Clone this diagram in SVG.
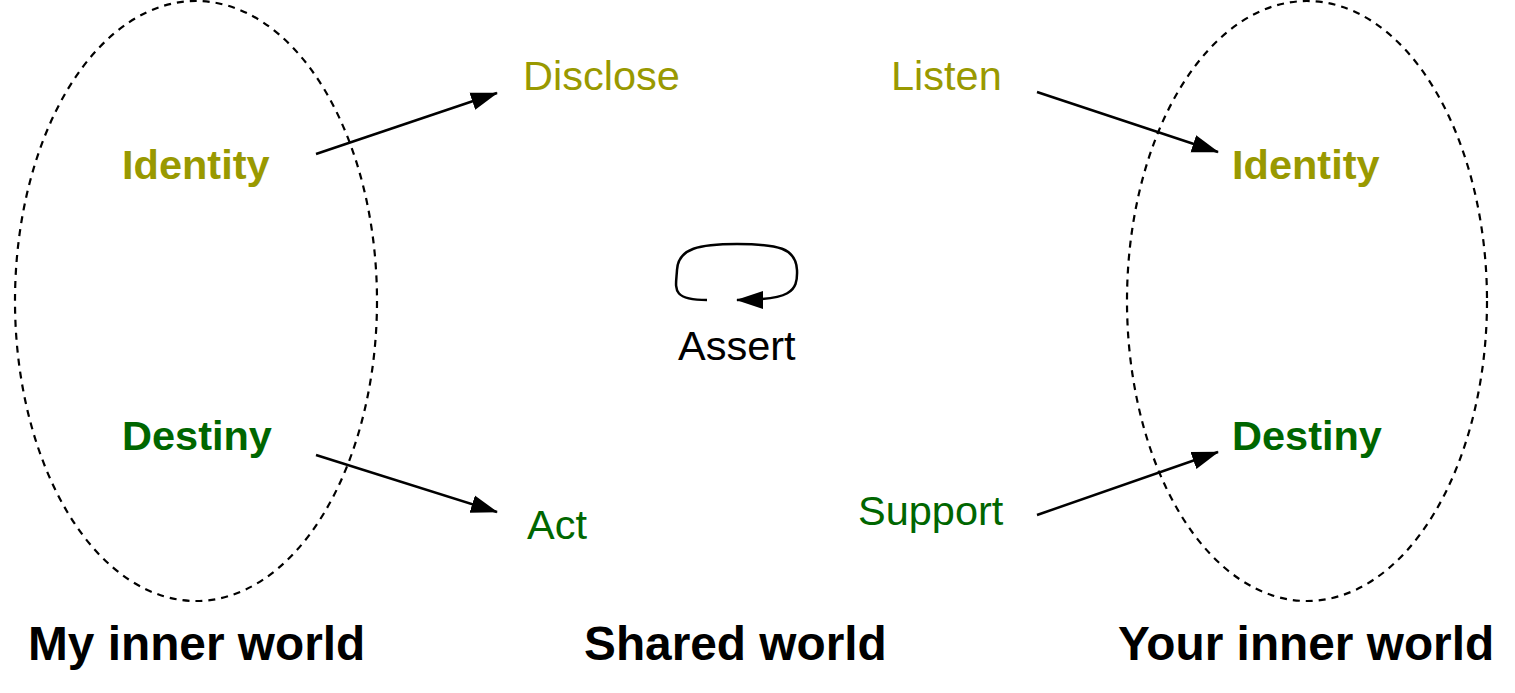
<svg xmlns="http://www.w3.org/2000/svg" width="1515" height="693" viewBox="0 0 1515 693">
<defs>
<marker id="ah" markerUnits="userSpaceOnUse" markerWidth="28" markerHeight="20" refX="26" refY="9" orient="auto" viewBox="0 0 28 18">
<path d="M0,0 L27,9 L0,18 Z" fill="#000"/>
</marker>
<style>
.t{font-family:"Liberation Sans",Arial,sans-serif;font-size:41.5px}
.b{font-weight:bold}
.ol{fill:#999900}
.gr{fill:#006600}
.lab{font-family:"Liberation Sans",Arial,sans-serif;font-size:47.8px;font-weight:bold;fill:#000}
.el{fill:none;stroke:#000;stroke-width:2.2;stroke-dasharray:7,6}
.c{fill:none;stroke:#000;stroke-width:2.5}
</style>
</defs>
<rect width="1515" height="693" fill="#fff"/>
<g id="my-world">
<ellipse class="el" cx="196" cy="301" rx="181" ry="300"/>
<text class="lab" x="28" y="660">My inner world</text>
</g>
<g id="your-world">
<ellipse class="el" cx="1307" cy="301" rx="180" ry="300"/>
<text class="lab" x="1118" y="660">Your inner world</text>
</g>
<g id="shared-world">
<text class="lab" x="584" y="660">Shared world</text>
</g>
<g id="my-identity"><text class="t b ol" x="122" y="179">Identity</text></g>
<g id="my-destiny"><text class="t b gr" x="122" y="450">Destiny</text></g>
<g id="your-identity"><text class="t b ol" x="1232" y="179">Identity</text></g>
<g id="your-destiny"><text class="t b gr" x="1232" y="450">Destiny</text></g>
<g id="disclose"><text class="t ol" x="523" y="90">Disclose</text></g>
<g id="listen"><text class="t ol" x="891" y="90">Listen</text></g>
<g id="act"><text class="t gr" x="527" y="539">Act</text></g>
<g id="support"><text class="t gr" x="858" y="525">Support</text></g>
<g id="assert"><text class="t" x="678" y="360" fill="#000">Assert</text></g>
<g id="connectors">
<line class="c" x1="316" y1="154" x2="497" y2="93" marker-end="url(#ah)"/>
<line class="c" x1="316" y1="455" x2="497" y2="512" marker-end="url(#ah)"/>
<line class="c" x1="1037" y1="92" x2="1218" y2="152" marker-end="url(#ah)"/>
<line class="c" x1="1037" y1="515" x2="1218" y2="452" marker-end="url(#ah)"/>
<path class="c" d="M707,300 C670,300 676,288 677,270 C678,248 700,244 737,244 C778,244 796,248 797,270 C798,292 790,300 737,300" marker-end="url(#ah)"/>
</g>
</svg>
